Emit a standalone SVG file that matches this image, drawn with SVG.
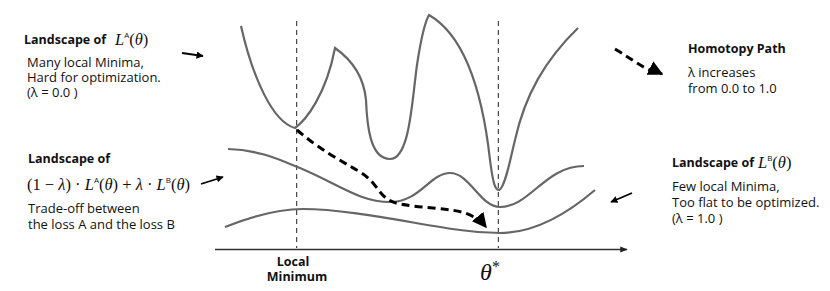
<svg xmlns="http://www.w3.org/2000/svg" width="830" height="291" viewBox="0 0 830 291">
<defs>
<style>
.curve{fill:none;stroke:#666;stroke-width:2.2}
.vdash{fill:none;stroke:#222;stroke-width:1;stroke-dasharray:5,4}
.path{fill:none;stroke:#000;stroke-width:3;stroke-dasharray:8,5}
.arr{fill:none;stroke:#000;stroke-width:1.8}
.t{font-family:"Open Sans","Noto Sans",sans-serif;font-size:13px;fill:#111}
.b{font-family:"Open Sans","Noto Sans",sans-serif;font-size:12.5px;font-weight:bold;fill:#111}
.m{font-family:"Liberation Serif",serif;font-size:16.5px;fill:#111}
.mi{font-style:italic}
.sup{font-family:"Open Sans",sans-serif;font-size:8px;font-style:normal}
</style>
<marker id="ah" viewBox="0 0 10 10" refX="9" refY="5" markerWidth="4" markerHeight="4" orient="auto" markerUnits="strokeWidth"><path d="M0,0 L10,5 L0,10 z" fill="#000"/></marker>
<marker id="ahBig" viewBox="0 0 10 10" refX="9" refY="5" markerWidth="5" markerHeight="5" orient="auto" markerUnits="strokeWidth"><path d="M0,0 L10,5 L0,10 z" fill="#000"/></marker>
<marker id="ahAxis" viewBox="0 0 10 10" refX="9" refY="5" markerWidth="5" markerHeight="5" orient="auto" markerUnits="strokeWidth"><path d="M0,1 L10,5 L0,9 z" fill="#222"/></marker>
</defs>

<g id="axis">
<line x1="215" y1="249.5" x2="627" y2="249.5" stroke="#333" stroke-width="1.5" marker-end="url(#ahAxis)"/>
</g>

<g id="guides">
<line class="vdash" x1="296.7" y1="21" x2="296.7" y2="248"/>
<line class="vdash" x1="498.3" y1="21" x2="498.3" y2="248"/>
</g>

<g id="curve-A">
<path class="curve" d="M241,26 C252,75 272,122 295,128 C306,120 326,95 335,48 C352,60 364,78 366,100 C367,125 370,159 390,159 C410,159 412,100 417,65 C420,45 425,22 429,15 C455,30 480,70 490,160 C493,183 495,190 499,190 C505,188 510,160 515,140 C525,95 545,60 578,28"/>
</g>
<g id="curve-mix">
<path class="curve" d="M228,149 C260,150 280,160 300,168 C340,185 360,202 390,202 C420,202 430,173 450,173 C470,173 480,207 500,207 C530,207 545,166 584,166"/>
</g>
<g id="curve-B">
<path class="curve" d="M225,227 C255,215 280,209 303,209 C350,209 420,225 460,230 C480,233 490,233 500,233 C530,233 560,220 595,190"/>
</g>

<g id="connectors">
<path class="path" d="M297,130 C320,150 340,160 360,172 C380,184 378,200 400,204 C420,208 450,208 465,213 C476,217 482,222 486,227" marker-end="url(#ahBig)"/>
<path class="path" d="M615,49 C630,58 640,66 650,70 C656,72 660,73 662,74" marker-end="url(#ahBig)"/>
<line class="arr" x1="182" y1="53" x2="203" y2="56" marker-end="url(#ah)"/>
<line class="arr" x1="201" y1="184" x2="223" y2="177" marker-end="url(#ah)"/>
<line class="arr" x1="632" y1="193" x2="611" y2="202" marker-end="url(#ah)"/>
</g>

<g id="label-A">
<text class="b" x="24" y="44">Landscape of</text>
<text class="m" x="115" y="45"><tspan class="mi">L</tspan><tspan class="sup" dy="-7">A</tspan><tspan dy="7">(</tspan><tspan class="mi">θ</tspan>)</text>
<text class="t" x="27" y="67">Many local Minima,</text>
<text class="t" x="27" y="82">Hard for optimization.</text>
<text class="t" x="27" y="97">(λ = 0.0 )</text>
</g>

<g id="label-mix">
<text class="b" x="28" y="163">Landscape of</text>
<text class="m" x="27" y="190">(1 − <tspan class="mi">λ</tspan>) · <tspan class="mi">L</tspan><tspan class="sup" dy="-7">A</tspan><tspan dy="7">(</tspan><tspan class="mi">θ</tspan>) + <tspan class="mi">λ</tspan> · <tspan class="mi">L</tspan><tspan class="sup" dy="-7">B</tspan><tspan dy="7">(</tspan><tspan class="mi">θ</tspan>)</text>
<text class="t" x="28" y="213">Trade-off between</text>
<text class="t" x="28" y="229">the loss A and the loss B</text>
</g>

<g id="label-homotopy">
<text class="b" x="688" y="53">Homotopy Path</text>
<text class="t" x="688" y="77">λ increases</text>
<text class="t" x="688" y="93">from 0.0 to 1.0</text>
</g>

<g id="label-B">
<text class="b" x="672" y="167">Landscape of</text>
<text class="m" x="758" y="168"><tspan class="mi">L</tspan><tspan class="sup" dy="-7">B</tspan><tspan dy="7">(</tspan><tspan class="mi">θ</tspan>)</text>
<text class="t" x="672" y="191">Few local Minima,</text>
<text class="t" x="672" y="207">Too flat to be optimized.</text>
<text class="t" x="672" y="223">(λ = 1.0 )</text>
</g>

<g id="axis-labels">
<text class="b" x="293" y="266" text-anchor="middle">Local</text>
<text class="b" x="297" y="281" text-anchor="middle">Minimum</text>
<text class="m" x="490" y="280" text-anchor="middle" style="font-size:24px"><tspan class="mi">θ</tspan><tspan dy="-8" style="font-size:16px">*</tspan></text>
</g>
</svg>
